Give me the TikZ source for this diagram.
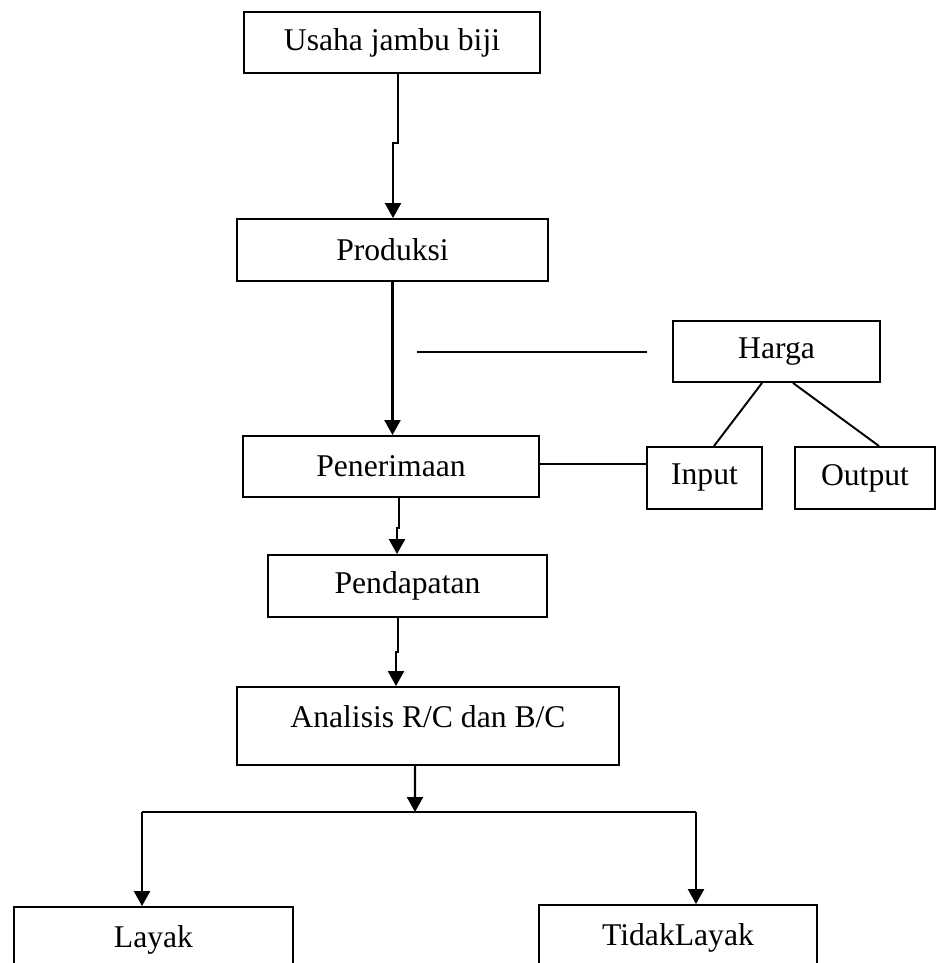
\documentclass[tikz,border=0pt]{standalone}
\usepackage{fontspec}
\setmainfont{Liberation Serif}
\usetikzlibrary{arrows.meta}

\begin{document}
\begin{tikzpicture}[
	box/.style={draw, line width=1.1pt, inner sep=0pt, font=\fontsize{18}{22}\selectfont},
	flow/.style={line width=1.3pt, -{Triangle[length=0.3cm,width=0.32cm]}},
	link/.style={line width=1.1pt}]
	
	\useasboundingbox (0,0) rectangle (18.82,-19.26);
	
	\node[box, minimum width=5.92cm, minimum height=1.22cm] (usaha) at (7.84,-0.85) {Usaha jambu biji};
	
	\node[box, minimum width=6.22cm, minimum height=1.24cm] (produksi) at (7.85,-5.0) {Produksi};
	
	\node[box, minimum width=5.92cm, minimum height=1.22cm] (pener) at (7.82,-9.33) {Penerimaan};
	
	\node[box, minimum width=5.58cm, minimum height=1.24cm] (pendap) at (8.15,-11.72) {Pendapatan};
	
	\node[box, minimum width=7.64cm, text height=0.81cm, text depth=0.75cm] (analisis) at (8.56,-14.52) {Analisis R/C dan B/C};
	
	\node[box, minimum width=4.14cm, minimum height=1.22cm] (harga) at (15.53,-7.03) {Harga};
	
	\node[box, minimum width=2.3cm, minimum height=1.24cm] (input) at (14.09,-9.56) {Input};
	
	\node[box, minimum width=2.8cm, minimum height=1.24cm] (output) at (17.3,-9.56) {Output};
	
	\node[box, minimum width=5.58cm, minimum height=1.3cm] (layak) at (3.07,-18.79) {Layak};
	
	\node[box, minimum width=5.56cm, minimum height=1.3cm] (tidak) at (13.56,-18.75) {TidakLayak};
	
	\coordinate (jog1) at (7.86,-2.86);
	\coordinate (jog2) at (7.94,-10.56);
	\coordinate (jog3) at (7.92,-13.04);
	\coordinate (h1) at (8.34,-7.04);
	\coordinate (h2) at (12.94,-7.04);
	\coordinate (split) at (8.3,-16.24);
	\coordinate (bl) at (2.84,-16.24);
	\coordinate (br) at (13.92,-16.24);
	
	\draw[flow] ([xshift=1.2mm]usaha.south) |- (jog1) -- (jog1 |- produksi.north);
	\draw[flow] (produksi.south) -- (produksi.south |- pener.north);
	\draw[flow] ([xshift=1.6mm]pener.south) |- (jog2) -- (jog2 |- pendap.north);
	\draw[flow] ([xshift=-1.9mm]pendap.south) |- (jog3) -- (jog3 |- analisis.north);
	\draw[flow] ([xshift=-2.6mm]analisis.south) -- (split);
	
	\draw[link] (h1) -- (h2);
	\draw[link] ([xshift=-2.9mm]harga.south) -- ([xshift=1.9mm]input.north);
	\draw[link] ([xshift=3.3mm]harga.south) -- ([xshift=2.8mm]output.north);
	\draw[link] ([yshift=0.5mm]pener.east) -- ([yshift=0.5mm]pener.east -| input.west);
	
	\draw[flow, -] (bl) -- (br);
	\draw[flow] (bl) -- (bl |- layak.north);
	\draw[flow] (br) -- (br |- tidak.north);
	
\end{tikzpicture}
\end{document}
